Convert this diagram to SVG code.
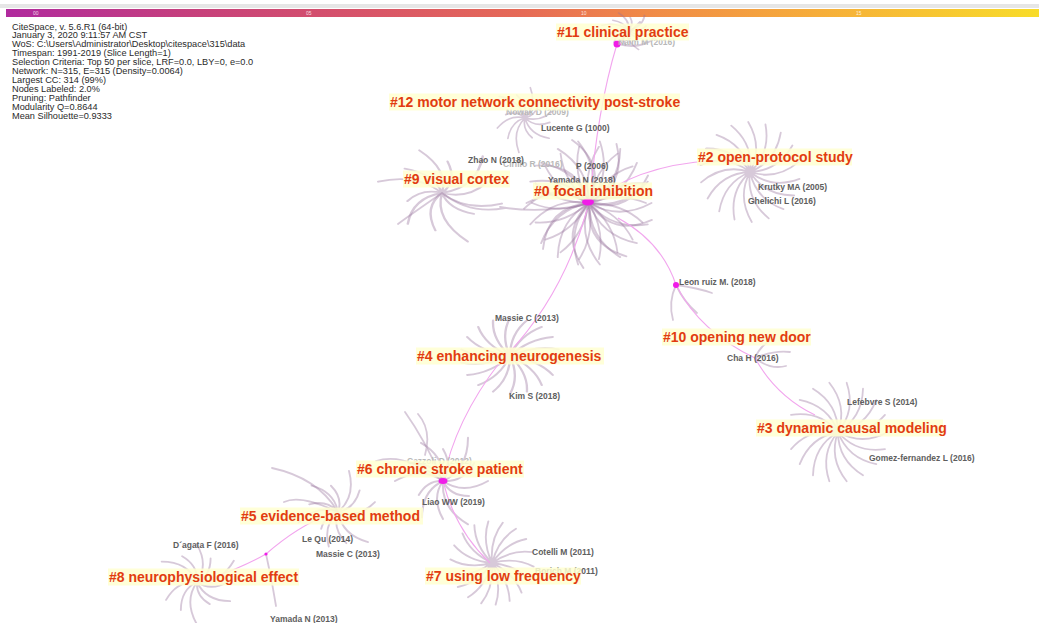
<svg xmlns="http://www.w3.org/2000/svg" width="1039" height="623" viewBox="0 0 1039 623">
<style>
.meta{font-family:"Liberation Sans",Arial,sans-serif;font-size:9.2px;fill:#2a2a2a}
.cl{font-family:"Liberation Sans",Arial,sans-serif;font-size:14px;font-weight:bold;fill:#e23c10}
.bx{fill:#ffffd2;fill-opacity:0.86}
.nl{font-family:"Liberation Sans",Arial,sans-serif;font-size:8.5px;font-weight:bold;fill:#5e5e5e}
.nf{fill:#b8b8b8}
.sp{fill:none;stroke:#96709a;stroke-opacity:0.38;stroke-linecap:round}
.lk{fill:none;stroke:#f2a6ee;stroke-width:1.1}
.hub{fill:#f01ce8}
.tk{font-family:"Liberation Sans",Arial,sans-serif;font-size:5px;fill:#ffffff;fill-opacity:0.8}
</style>
<defs>
<linearGradient id="bar" x1="0" x2="1" y1="0" y2="0">
<stop offset="0" stop-color="#b02a9e"/>
<stop offset="0.18" stop-color="#c6407c"/>
<stop offset="0.35" stop-color="#d85468"/>
<stop offset="0.5" stop-color="#e66a56"/>
<stop offset="0.62" stop-color="#f08a48"/>
<stop offset="0.78" stop-color="#f6ac3a"/>
<stop offset="1" stop-color="#f8dc2a"/>
</linearGradient>
<path id="fa" d="M0 0Q24.2 14 50 0M0 0Q18 21.4 47 17.1M0 0Q9.6 26.3 38.3 32.1M0 0Q0 28 25 43.3M0 0Q-9.6 26.3 8.7 49.2M0 0Q-18 21.4 -8.7 49.2M0 0Q-24.2 14 -25 43.3M0 0Q-27.6 4.9 -38.3 32.1M0 0Q-27.6 -4.9 -47 17.1M0 0Q-24.2 -14 -50 0M0 0Q-18 -21.4 -47 -17.1M0 0Q-9.6 -26.3 -38.3 -32.1M0 0Q0 -28 -25 -43.3M0 0Q9.6 -26.3 -8.7 -49.2M0 0Q18 -21.4 8.7 -49.2M0 0Q24.2 -14 25 -43.3M0 0Q27.6 -4.9 38.3 -32.1M0 0Q27.6 4.9 47 -17.1"/>
<path id="fb" d="M0 0Q21.7 -3.8 37.4 6.6M0 0Q21.7 3.8 32.9 19M0 0Q19 11 24.4 29.1M0 0Q14.1 16.9 13 35.7M0 0Q7.5 20.7 0 38M0 0Q0 22 -13 35.7M0 0Q-7.5 20.7 -24.4 29.1M0 0Q-14.1 16.9 -32.9 19M0 0Q-19 11 -37.4 6.6M0 0Q-21.7 3.8 -37.4 -6.6M0 0Q-21.7 -3.8 -32.9 -19M0 0Q-19 -11 -24.4 -29.1M0 0Q-14.1 -16.9 -13 -35.7M0 0Q-7.5 -20.7 0 -38M0 0Q0 -22 13 -35.7M0 0Q7.5 -20.7 24.4 -29.1M0 0Q14.1 -16.9 32.9 -19M0 0Q19 -11 37.4 -6.6"/>
<path id="fc" d="M0 0Q23 32.8 59.9 16.1M0 0Q-3.5 39.8 35.6 50.8M0 0Q-28.3 28.3 -5.4 61.8M0 0Q-39.8 3.5 -43.8 43.8M0 0Q-32.8 -23 -61.8 5.4M0 0Q-10.4 -38.6 -50.8 -35.6M0 0Q16.9 -36.3 -16.1 -59.9M0 0Q36.3 -16.9 26.2 -56.2M0 0Q38.6 10.4 56.2 -26.2"/>
<path id="fd" d="M0 0Q20.3 14.2 45 0M0 0Q7 15 26 15M0 0Q-2.4 27.4 25 43.3M0 0Q-12 17.1 0 38M0 0Q-20.9 9.8 -21 36.4M0 0Q-15.3 -1.3 -24.2 14M0 0Q-21.6 -15.2 -48 0M0 0Q-8.2 -17.5 -30.3 -17.5M0 0Q2.1 -24.1 -22 -38.1M0 0Q10.1 -14.4 0 -32M0 0Q24.9 -11.6 25 -43.3M0 0Q19.7 1.7 31.2 -18"/>
</defs>

<rect x="0" y="0" width="1039" height="623" fill="#ffffff"/>
<rect x="0" y="4" width="1039" height="4" fill="#e6e6e6"/>
<rect x="6" y="9" width="1033" height="8" fill="url(#bar)"/>
<text class="tk" x="33" y="15">00</text>
<text class="tk" x="306" y="15">05</text>
<text class="tk" x="581" y="15">10</text>
<text class="tk" x="856" y="15">15</text>

<g id="meta">
<text class="meta" x="12" y="29.5">CiteSpace, v. 5.6.R1 (64-bit)</text>
<text class="meta" x="12" y="38.4">January 3, 2020 9:11:57 AM CST</text>
<text class="meta" x="12" y="47.4">WoS: C:\Users\Administrator\Desktop\citespace\315\data</text>
<text class="meta" x="12" y="56.3">Timespan: 1991-2019 (Slice Length=1)</text>
<text class="meta" x="12" y="65.2">Selection Criteria: Top 50 per slice, LRF=0.0, LBY=0, e=0.0</text>
<text class="meta" x="12" y="74.2">Network: N=315, E=315 (Density=0.0064)</text>
<text class="meta" x="12" y="83.1">Largest CC: 314 (99%)</text>
<text class="meta" x="12" y="92">Nodes Labeled: 2.0%</text>
<text class="meta" x="12" y="101">Pruning: Pathfinder</text>
<text class="meta" x="12" y="109.9">Modularity Q=0.8644</text>
<text class="meta" x="12" y="118.8">Mean Silhouette=0.9333</text>
</g>

<g id="spokes">
<use href="#fa" class="sp" stroke-width="1.5" transform="translate(589 203) scale(1.25)"/>
<use href="#fb" class="sp" stroke-width="1.2" transform="translate(589 203) rotate(10) scale(1.5)"/>
<use href="#fc" class="sp" stroke-width="1.8" transform="translate(589 203) scale(1.05)"/>
<use href="#fd" class="sp" stroke-width="1.8" transform="translate(442 193) rotate(10) scale(1.35 1)"/>
<use href="#fd" class="sp" stroke-width="2.4" transform="translate(525 118) rotate(40) scale(0.7)"/>
<use href="#fd" class="sp" stroke-width="3.5" transform="translate(628 30) rotate(10) scale(0.55 0.4)"/>
<use href="#fa" class="sp" stroke-width="1.8" transform="translate(750 172) rotate(8)"/>
<use href="#fa" class="sp" stroke-width="1.8" transform="translate(838 432) rotate(20)"/>
<use href="#fb" class="sp" stroke-width="1.8" transform="translate(510 356) scale(1.3 1)"/>
<use href="#fd" class="sp" stroke-width="2" transform="translate(443 481)"/>
<use href="#fd" class="sp" stroke-width="2.2" transform="translate(338 512) rotate(-15) scale(0.85)"/>
<use href="#fd" class="sp" stroke-width="2.2" transform="translate(197 582) rotate(30) scale(0.85)"/>
<use href="#fb" class="sp" stroke-width="1.7" transform="translate(492 563) rotate(15) scale(1.1)"/>
<path class="sp" stroke-width="1.8" d="M500 207Q540 214 588 204M442 193Q470 215 505 208M442 193Q410 215 398 224"/>
<path class="sp" stroke-width="1.8" d="M443 481Q425 440 405 412M443 481Q405 452 376 461M425 455Q432 430 418 414M338 512Q318 478 272 468M338 512Q300 494 284 502"/>
<path class="sp" stroke-width="1.8" d="M676 285Q698 288 712 293M676 285Q668 302 673 320M676 285Q684 302 697 313"/>
<path class="sp" stroke-width="1.8" d="M755 358Q774 350 790 352M755 358Q770 370 786 366M755 358Q760 346 771 340"/>
<path class="sp" stroke-width="1.8" d="M266 554Q272 580 276 606M617 44Q640 50 655 38M617 44Q632 30 640 22"/>
</g>

<g id="connectors">
<path class="lk" d="M617 44Q597 110 590 200"/>
<path class="lk" d="M600 196Q650 160 735 160"/>
<path class="lk" d="M618 218Q662 242 676 285"/>
<path class="lk" stroke-width="2" d="M676 285Q700 332 755 358"/>
<path class="lk" d="M755 358Q776 396 815 415"/>
<path class="lk" d="M587 210Q562 300 500 362Q455 420 443 481"/>
<path class="lk" d="M443 481Q455 530 490 563"/>
<path class="lk" stroke-width="1.8" d="M330 514Q298 526 266 554Q245 566 212 578"/>
</g>

<g id="nodes">
<ellipse class="hub" cx="588" cy="202" rx="6" ry="3.5"/>
<circle class="hub" cx="617" cy="44" r="3.5"/>
<circle class="hub" cx="676" cy="285" r="3"/>
<ellipse class="hub" cx="443" cy="481" rx="4.5" ry="3"/>
<circle class="hub" cx="266" cy="554" r="1.6"/>
<circle cx="510" cy="354" r="5" fill="#f8b8d8" fill-opacity="0.6"/>
</g>

<g id="node-labels">
<text class="nl nf" x="618" y="45">Naim M (2016)</text>
<text class="nl nf" x="506" y="115">Nowak D (2009)</text>
<text class="nl" x="541" y="131">Lucente G (1000)</text>
<text class="nl nf" x="503" y="167">Cirillo R (2016)</text>
<text class="nl" x="468" y="163">Zhao N (2018)</text>
<text class="nl" x="576" y="169">P (2006)</text>
<text class="nl" x="548" y="183">Yamada N (2018)</text>
<text class="nl" x="758" y="190">Krutky MA (2005)</text>
<text class="nl" x="748" y="204">Ghelichi L (2016)</text>
<text class="nl" x="679" y="285">Leon ruiz M. (2018)</text>
<text class="nl" x="495" y="321">Massie C (2013)</text>
<text class="nl" x="727" y="361">Cha H (2016)</text>
<text class="nl" x="509" y="399">Kim S (2018)</text>
<text class="nl" x="847" y="405">Lefebvre S (2014)</text>
<text class="nl" x="869" y="461">Gomez-fernandez L (2016)</text>
<text class="nl nf" x="407" y="464">Cazzoli D (2012)</text>
<text class="nl" x="422" y="505">Liao WW (2019)</text>
<text class="nl" x="302" y="542">Le Qu (2014)</text>
<text class="nl" x="173" y="548">D´agata F (2016)</text>
<text class="nl" x="316" y="557">Massie C (2013)</text>
<text class="nl" x="532" y="555">Cotelli M (2011)</text>
<text class="nl" x="535" y="574">Borich M (2011)</text>
<text class="nl" x="270" y="622">Yamada N (2013)</text>
</g>

<g id="cluster-11"><rect class="bx" x="556" y="23.5" width="133" height="17"/><text class="cl" x="557" y="37">#11 clinical practice</text></g>
<g id="cluster-12"><rect class="bx" x="389" y="93.5" width="291" height="17"/><text class="cl" x="390" y="107">#12 motor network connectivity post-stroke</text></g>
<g id="cluster-2"><rect class="bx" x="697" y="148.5" width="155" height="17"/><text class="cl" x="698" y="162">#2 open-protocol study</text></g>
<g id="cluster-9"><rect class="bx" x="403" y="170.5" width="107" height="17"/><text class="cl" x="404" y="184">#9 visual cortex</text></g>
<g id="cluster-0"><rect class="bx" x="533" y="182.5" width="119" height="17"/><text class="cl" x="534" y="196">#0 focal inhibition</text></g>
<g id="cluster-10"><rect class="bx" x="662" y="328.5" width="149" height="17"/><text class="cl" x="663" y="342">#10 opening new door</text></g>
<g id="cluster-4"><rect class="bx" x="416" y="347.5" width="188" height="17"/><text class="cl" x="417" y="361">#4 enhancing neurogenesis</text></g>
<g id="cluster-3"><rect class="bx" x="756" y="419.5" width="187" height="17"/><text class="cl" x="757" y="433">#3 dynamic causal modeling</text></g>
<g id="cluster-6"><rect class="bx" x="356" y="460.5" width="168" height="17"/><text class="cl" x="357" y="474">#6 chronic stroke patient</text></g>
<g id="cluster-5"><rect class="bx" x="240" y="507.5" width="183" height="17"/><text class="cl" x="241" y="521">#5 evidence-based method</text></g>
<g id="cluster-8"><rect class="bx" x="108" y="568.5" width="191" height="17"/><text class="cl" x="109" y="582">#8 neurophysiological effect</text></g>
<g id="cluster-7"><rect class="bx" x="425" y="567.5" width="156" height="17"/><text class="cl" x="426" y="581">#7 using low frequency</text></g>
</svg>
